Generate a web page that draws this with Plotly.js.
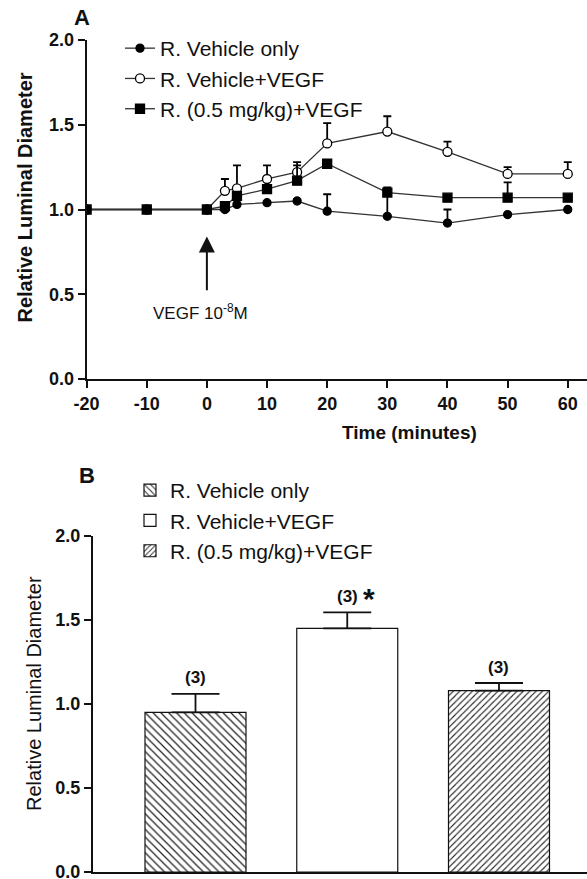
<!DOCTYPE html>
<html><head><meta charset="utf-8">
<script src="https://cdn.plot.ly/plotly-3.0.1.min.js"></script>
<style>html,body{margin:0;padding:0;background:#fff}#chart{width:587px;height:879px}</style>
</head><body><div id="chart"></div>
<script>
// ---- data ----
const timeMinutes = [-20, -10, 0, 3, 5, 10, 15, 20, 30, 40, 50, 60];
const vehicleOnly = [1.00, 1.00, 1.00, 1.00, 1.03, 1.04, 1.05, 0.99, 0.96, 0.92, 0.97, 1.00];
const vehicleOnlySem = [0, 0, 0, 0, 0, 0, 0.01, 0.10, 0.12, 0.08, 0, 0];
const vehicleVegf = [1.00, 1.00, 1.00, 1.11, 1.125, 1.18, 1.22, 1.39, 1.46, 1.34, 1.21, 1.21];
const vehicleVegfSem = [0, 0, 0, 0.07, 0.135, 0.08, 0.06, 0.12, 0.09, 0.06, 0.04, 0.07];
const drugVegf = [1.00, 1.00, 1.00, 1.02, 1.08, 1.12, 1.17, 1.27, 1.10, 1.07, 1.07, 1.07];
const drugVegfSem = [0, 0, 0, 0, 0, 0.02, 0.09, 0, 0.03, 0, 0.09, 0];
const seriesNames = ['R. Vehicle only', 'R. Vehicle+VEGF', 'R. (0.5 mg/kg)+VEGF'];
const timeTicks = [-20, -10, 0, 10, 20, 30, 40, 50, 60];
const timeTickLabels = ['-20', '-10', '0', '10', '20', '30', '40', '50', '60'];
const diamTicks = [0, 0.5, 1, 1.5, 2];
const diamTickLabels = ['0.0', '0.5', '1.0', '1.5', '2.0'];
const barMeans = [0.95, 1.45, 1.08];
const barSem = [0.11, 0.095, 0.045];
const barN = ['(3)', '(3)', '(3)'];

// ---- styling helpers ----
const F = 'Liberation Sans, Arial, sans-serif';
const W = 587, H = 879;
const px = v => v / W;
const py = v => 1 - v / H;
const ink = '#111';

function seriesTrace(y, sem, name, symbol, fill, size, group) {
  return {
    type: 'scatter', mode: 'lines+markers', x: timeMinutes, y: y, name: name,
    legend: 'legend', legendgroup: group, xaxis: 'x', yaxis: 'y',
    line: {color: '#333', width: 1.3},
    marker: {symbol: symbol, size: size, color: fill, line: {color: '#000', width: 1.3}},
    error_y: {type: 'data', symmetric: false, array: sem, arrayminus: sem.map(() => 0),
              color: '#000', thickness: 1.8, width: 4}
  };
}

const traces = [
  seriesTrace(vehicleOnly, vehicleOnlySem, seriesNames[0], 'circle', '#000', 8, 'a'),
  seriesTrace(vehicleVegf, vehicleVegfSem, seriesNames[1], 'circle', '#fff', 9, 'b'),
  seriesTrace(drugVegf, drugVegfSem, seriesNames[2], 'square', '#000', 9, 'c')
];

const barPatterns = [
  {shape: '\\', size: 5.5, solidity: 0.22, fgcolor: '#222', bgcolor: '#fff'},
  {shape: ''},
  {shape: '/', size: 4.5, solidity: 0.25, fgcolor: '#222', bgcolor: '#fff'}
];
barMeans.forEach((m, i) => {
  traces.push({
    type: 'bar', x: [i], y: [m], width: 0.6656, name: seriesNames[i],
    legend: 'legend2', legendgroup: 'bar' + i, xaxis: 'x2', yaxis: 'y2',
    marker: {color: '#fff', line: {color: ink, width: 1.2}, pattern: barPatterns[i]},
    error_y: {type: 'data', symmetric: false, array: [barSem[i]], arrayminus: [0],
              color: ink, thickness: 1.8, width: 24}
  });
});

const axisCommon = {
  showline: true, linewidth: 2, linecolor: ink, showgrid: false, zeroline: false,
  ticks: 'outside', ticklen: 7, tickwidth: 2, tickcolor: ink, fixedrange: true,
  ticklabeloverflow: 'allow',
  tickfont: {family: F, size: 18, color: ink, weight: 'bold'}
};

function note(x, y, text, size, extra) {
  return Object.assign({xref: 'paper', yref: 'paper', x: px(x), y: py(y), text: text,
    showarrow: false, xanchor: 'center', yanchor: 'middle',
    font: {family: F, size: size, color: ink}}, extra || {});
}

const annotations = [
  note(82, 18, '<b>A</b>', 22),
  note(87, 475, '<b>B</b>', 22),
  note(409, 432, '<b>Time (minutes)</b>', 19),
  note(24, 197.5, '<b>Relative Luminal Diameter</b>', 20, {textangle: -90}),
  note(33.5, 693.5, 'Relative Luminal Diameter', 20, {textangle: -90}),
  {xref: 'x', yref: 'y', x: 0, y: 0.84, axref: 'x', ayref: 'y', ax: 0, ay: 0.515, text: '',
   showarrow: true, arrowhead: 2, arrowsize: 1.6, arrowwidth: 2, arrowcolor: ink},
  {xref: 'x', yref: 'y', x: -1, y: 0.394, text: 'VEGF 10<sup>-8</sup>M', showarrow: false,
   xanchor: 'center', yanchor: 'middle', font: {family: F, size: 17, color: ink}},
  {xref: 'x2', yref: 'y2', x: 1, y: barMeans[1] + barSem[1], xshift: 22, yshift: 14, text: '<b>*</b>',
   showarrow: false, xanchor: 'center', yanchor: 'middle', font: {family: F, size: 30, color: ink}}
];
barMeans.forEach((m, i) => {
  annotations.push({xref: 'x2', yref: 'y2', x: i, y: m + barSem[i], yshift: 16, text: barN[i],
    showarrow: false, xanchor: 'center', yanchor: 'middle',
    font: {family: F, size: 17, color: ink, weight: 'bold'}});
});

const legendCommon = {xanchor: 'left', yanchor: 'top', bgcolor: 'rgba(0,0,0,0)',
  font: {family: F, size: 21, color: ink}, traceorder: 'grouped', tracegroupgap: 0};

const layout = {
  width: W, height: H, margin: {l: 0, r: 0, t: 0, b: 0},
  paper_bgcolor: '#fff', plot_bgcolor: '#fff',
  font: {family: F, color: ink}, barmode: 'overlay', showlegend: true,
  xaxis: Object.assign({}, axisCommon, {domain: [px(86.6), 1], range: [-20, 63.2],
    tickvals: timeTicks, ticktext: timeTickLabels, anchor: 'y'}),
  yaxis: Object.assign({}, axisCommon, {domain: [py(379), py(40)], range: [0, 2],
    tickvals: diamTicks, ticktext: diamTickLabels, anchor: 'x'}),
  xaxis2: Object.assign({}, axisCommon, {domain: [px(93), 1], range: [-0.6755, 2.58],
    showticklabels: false, ticks: '', anchor: 'y2'}),
  yaxis2: Object.assign({}, axisCommon, {domain: [py(872), py(536)], range: [0, 2],
    tickvals: diamTicks, ticktext: diamTickLabels, anchor: 'x2'}),
  legend: Object.assign({}, legendCommon, {x: px(120), y: py(28)}),
  legend2: Object.assign({}, legendCommon, {x: px(130), y: py(470)}),
  annotations: annotations
};

Plotly.newPlot('chart', traces, layout, {displayModeBar: false, staticPlot: true});
</script>
</body></html>
